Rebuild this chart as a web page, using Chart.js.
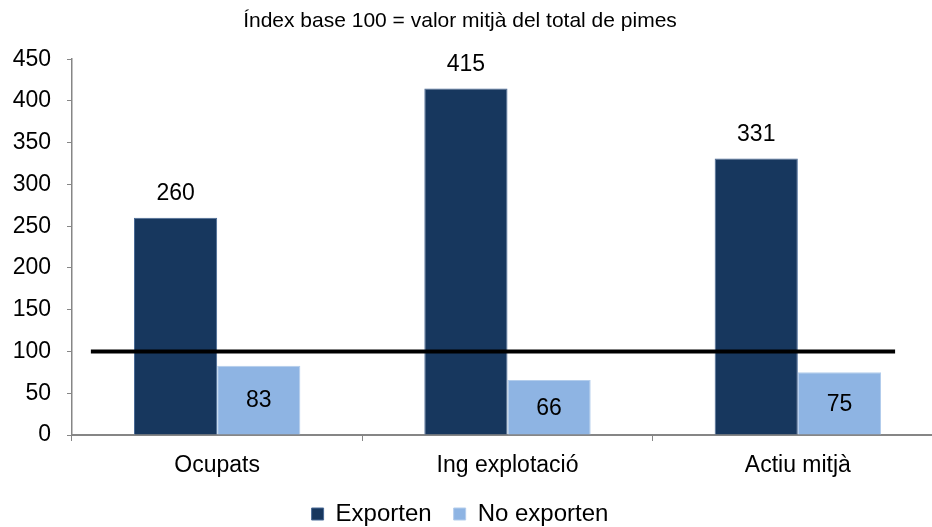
<!DOCTYPE html>
<html>
<head>
<meta charset="utf-8">
<script src="https://cdn.jsdelivr.net/npm/chart.js@4.4.0/dist/chart.umd.min.js"></script>
<style>
  html, body { margin: 0; padding: 0; background: #fff; overflow: hidden; }
  #wrap { width: 945px; height: 527px; }
</style>
</head>
<body>
<div id="wrap"><canvas id="chart" width="945" height="527"></canvas></div>
<script>
const categories = ['Ocupats', 'Ing explotació', 'Actiu mitjà'];
const exporten = [260, 415, 331];
const noExporten = [83, 66, 75];
const baseLevel = 100;
const baseLineX = [-0.435, 2.335];  // extent of the reference line, in category units
const yTicks = { min: 0, max: 450, step: 50 };
const subtitle = 'Índex base 100 = valor mitjà del total de pimes';

const FONT = "'Liberation Sans', Arial, sans-serif";

// Draws value labels: above the dark bars, centred inside the light ones
const valueLabels = {
  id: 'valueLabels',
  afterDatasetsDraw(chart) {
    const ctx = chart.ctx;
    ctx.save();
    ctx.font = '23px ' + FONT;
    ctx.fillStyle = '#000';
    ctx.textAlign = 'center';
    ctx.textBaseline = 'middle';
    [0, 1].forEach(i => {
      const meta = chart.getDatasetMeta(i);
      meta.data.forEach((bar, j) => {
        const v = chart.data.datasets[i].data[j];
        const y = i === 0 ? bar.y - 24 : (bar.y + bar.base) / 2 + 1;
        ctx.fillText(String(v), bar.x, y);
      });
    });
    ctx.restore();
  }
};

// Horizontal reference line at the base index, placed through the scales
const baseLine = {
  id: 'baseLine',
  afterDatasetsDraw(chart) {
    const { ctx, scales } = chart;
    const y = scales.y.getPixelForValue(baseLevel);
    const x0 = scales.x.getPixelForValue(baseLineX[0]);
    const x1 = scales.x.getPixelForValue(baseLineX[1]);
    ctx.save();
    ctx.strokeStyle = '#000';
    ctx.lineWidth = 4;
    ctx.beginPath();
    ctx.moveTo(x0, y);
    ctx.lineTo(x1, y);
    ctx.stroke();
    ctx.restore();
  }
};

const ctx = document.getElementById('chart').getContext('2d');
new Chart(ctx, {
  type: 'bar',
  data: {
    labels: categories,
    datasets: [
      {
        label: 'Exporten',
        data: exporten,
        backgroundColor: '#17375E',
        borderColor: '#4A6A96',
        borderWidth: 1,
        barPercentage: 1,
        categoryPercentage: 0.573
      },
      {
        label: 'No exporten',
        data: noExporten,
        backgroundColor: '#8EB4E3',
        borderColor: '#B3CDEC',
        borderWidth: 1,
        barPercentage: 1,
        categoryPercentage: 0.573
      }
    ]
  },
  options: {
    responsive: false,
    animation: false,
    layout: { padding: { left: -23, right: 2, top: 0, bottom: -9 } },
    plugins: {
      title: {
        display: true,
        text: subtitle,
        color: '#000',
        font: { family: FONT, size: 21, weight: 'normal' },
        padding: { top: 9, bottom: 25 }
      },
      legend: {
        position: 'bottom',
        labels: {
          color: '#000',
          font: { family: FONT, size: 24 },
          boxWidth: 12,
          boxHeight: 12,
          padding: 22
        }
      },
      tooltip: { enabled: false }
    },
    scales: {
      x: {
        grid: { drawOnChartArea: false, tickLength: 6, color: '#868686', offset: true },
        border: { color: '#868686', width: 2 },
        ticks: { color: '#000', font: { family: FONT, size: 23 }, padding: 11 },
        afterFit: s => { s.height = 45; }
      },
      y: {
        min: yTicks.min,
        max: yTicks.max,
        grid: { drawOnChartArea: false, tickLength: 5, color: '#868686' },
        border: { color: '#868686', width: 1.5 },
        ticks: {
          stepSize: yTicks.step,
          color: '#000',
          font: { family: FONT, size: 23 },
          padding: 16
        },
        afterFit: s => { s.width = 95; }
      }
    }
  },
  plugins: [valueLabels, baseLine]
});
</script>
</body>
</html>
